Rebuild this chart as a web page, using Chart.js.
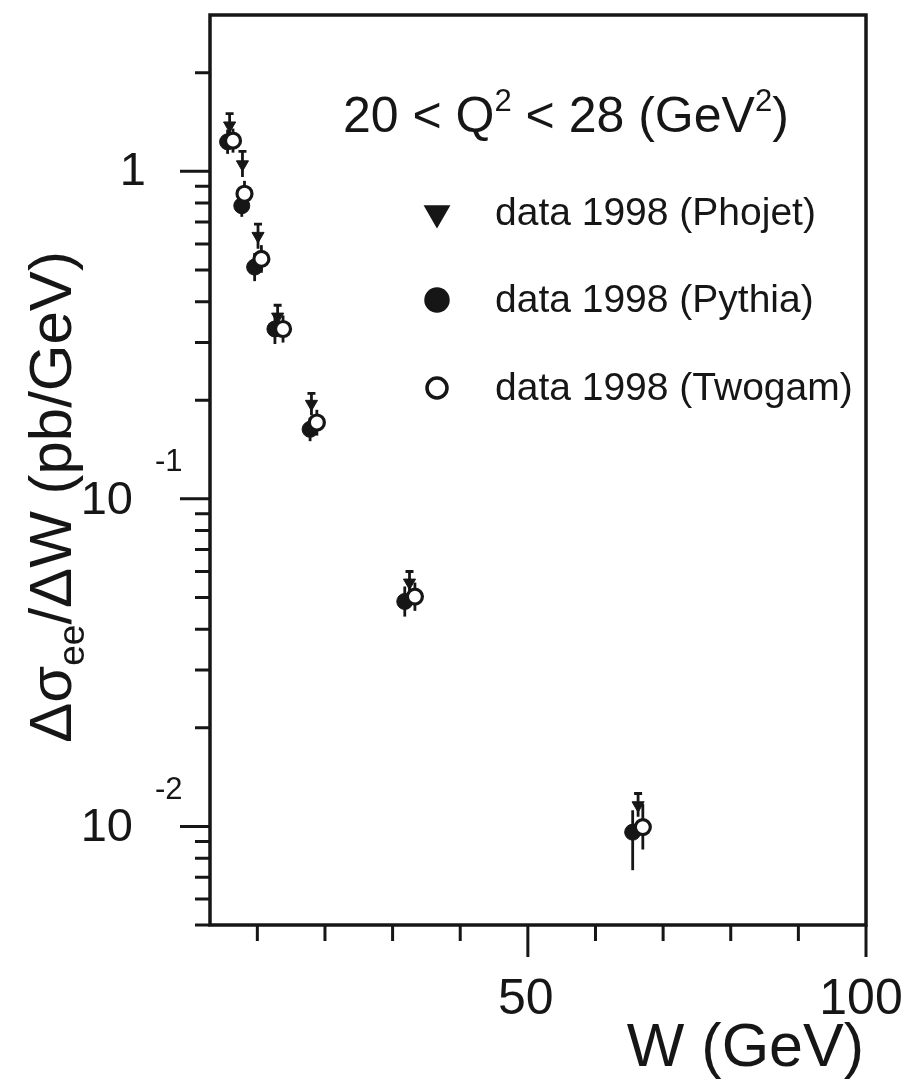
<!DOCTYPE html>
<html>
<head>
<meta charset="utf-8">
<script src="https://cdn.jsdelivr.net/npm/chart.js@4.4.1/dist/chart.umd.min.js"></script>
<style>
html,body{margin:0;padding:0;background:#fff;}
#wrap{width:915px;height:1080px;}
</style>
</head>
<body>
<div id="wrap"><canvas id="c" width="915" height="1080"></canvas></div>
<script>
// ---- data ----
const wPhojet  = [5.9, 7.8, 10.1, 13.0, 18.0, 32.5, 66.3];
const yPhojet  = [1.38, 1.05, 0.635, 0.36, 0.195, 0.0555, 0.0116];
const loPhojet = [1.27, 0.96, 0.58, 0.33, 0.18, 0.051, 0.0107];
const hiPhojet = [1.50, 1.15, 0.69, 0.39, 0.21, 0.060, 0.0126];

const wPythia  = [5.6, 7.7, 9.6, 12.6, 17.8, 31.8, 65.5];
const yPythia  = [1.23, 0.785, 0.51, 0.33, 0.163, 0.0486, 0.0096];
const loPythia = [1.13, 0.726, 0.462, 0.297, 0.150, 0.0437, 0.00735];
const hiPythia = [1.34, 0.85, 0.563, 0.367, 0.177, 0.054, 0.0112];

const wTwogam  = [6.4, 8.1, 10.6, 13.8, 18.8, 33.3, 67.0];
const yTwogam  = [1.24, 0.854, 0.54, 0.33, 0.171, 0.0503, 0.00995];
const loTwogam = [1.14, 0.78, 0.49, 0.30, 0.156, 0.0455, 0.0085];
const hiTwogam = [1.35, 0.935, 0.595, 0.363, 0.187, 0.0555, 0.0117];

const seriesNames = ["data 1998 (Phojet)", "data 1998 (Pythia)", "data 1998 (Twogam)"];

// ---- axes ----
const xMin = 3, xMax = 100;
const yMin = 0.005, yMax = 3;
const xMinorTicks = [10, 20, 30, 40, 60, 70, 80, 90];
const xMajorTicks = [50, 100];
const xTickLabels = ["50", "100"];
const yMajorTicks = [1, 0.1, 0.01];
const yTickBase = ["1", "10", "10"];
const yTickExp  = ["", "-1", "-2"];
const yMinorTicks = [2, 0.9, 0.8, 0.7, 0.6, 0.5, 0.4, 0.3, 0.2,
                     0.09, 0.08, 0.07, 0.06, 0.05, 0.04, 0.03, 0.02,
                     0.009, 0.008, 0.007, 0.006, 0.005];
const xTitle = "W (GeV)";
const noteText = ["20 < Q", "2", " < 28 (GeV", "2", ")"];

const INK = '#161616';
const FONT = '"Liberation Sans", Arial, Helvetica, sans-serif';

function pts(xs, ys) { return xs.map((x, i) => ({x: x, y: ys[i]})); }

const errs = [
  {lo: loPhojet, hi: hiPhojet, cap: 8},
  {lo: loTwogam, hi: hiTwogam, cap: 0},
  {lo: loPythia, hi: hiPythia, cap: 0}
];

const decor = {
  id: 'decor',
  beforeDatasetsDraw(chart) {
    const ctx = chart.ctx, xs = chart.scales.x, ys = chart.scales.y;
    ctx.save();
    ctx.strokeStyle = INK;
    ctx.lineWidth = 2.8;
    chart.data.datasets.forEach((ds, di) => {
      const e = errs[di];
      ds.data.forEach((p, i) => {
        const px = xs.getPixelForValue(p.x);
        const y1 = ys.getPixelForValue(e.lo[i]);
        const y2 = ys.getPixelForValue(e.hi[i]);
        ctx.beginPath();
        ctx.moveTo(px, y1); ctx.lineTo(px, y2);
        if (e.cap) { ctx.moveTo(px - e.cap / 2, y2); ctx.lineTo(px + e.cap / 2, y2); }
        ctx.stroke();
      });
    });
    ctx.restore();
  },
  afterDraw(chart) {
    const ctx = chart.ctx, a = chart.chartArea, xs = chart.scales.x, ys = chart.scales.y;
    ctx.save();
    ctx.strokeStyle = INK;
    ctx.fillStyle = INK;
    // frame
    ctx.lineWidth = 3.5;
    ctx.strokeRect(a.left, a.top, a.right - a.left, a.bottom - a.top);
    // x ticks
    ctx.lineWidth = 3;
    ctx.beginPath();
    xMinorTicks.forEach(v => { const p = xs.getPixelForValue(v); ctx.moveTo(p, a.bottom); ctx.lineTo(p, a.bottom + 16); });
    xMajorTicks.forEach(v => { const p = xs.getPixelForValue(v); ctx.moveTo(p, a.bottom); ctx.lineTo(p, a.bottom + 32); });
    // y ticks
    yMinorTicks.forEach(v => { const p = ys.getPixelForValue(v); ctx.moveTo(a.left, p); ctx.lineTo(a.left - 15, p); });
    yMajorTicks.forEach(v => { const p = ys.getPixelForValue(v); ctx.moveTo(a.left, p); ctx.lineTo(a.left - 30, p); });
    ctx.stroke();
    // x tick labels
    ctx.font = '50px ' + FONT;
    ctx.textAlign = 'center';
    ctx.textBaseline = 'alphabetic';
    xMajorTicks.forEach((v, i) => {
      const p = xs.getPixelForValue(v);
      ctx.fillText(xTickLabels[i], p - (i === 1 ? 5 : 2), a.bottom + 89);
    });
    // y tick labels
    yMajorTicks.forEach((v, i) => {
      const p = ys.getPixelForValue(v);
      ctx.font = '47px ' + FONT;
      ctx.textAlign = 'right';
      ctx.textBaseline = 'middle';
      if (yTickExp[i] === '') {
        ctx.fillText(yTickBase[i], 146, p + 1);
      } else {
        ctx.fillText(yTickBase[i], 133, p + 2);
        ctx.font = '31px ' + FONT;
        ctx.textAlign = 'left';
        ctx.fillText(yTickExp[i], 155, p - 36);
      }
    });
    // x title
    ctx.font = '61px ' + FONT;
    ctx.textAlign = 'right';
    ctx.textBaseline = 'alphabetic';
    ctx.fillText(xTitle, 864, 1066);
    // y title (rotated)
    ctx.save();
    ctx.translate(71, 497);
    ctx.rotate(-Math.PI / 2);
    const big = '60px ' + FONT, small = '37px ' + FONT;
    const parts = [["\u0394\u03c3", big, 0], ["ee", small, 13], ["/\u0394W (pb/GeV)", big, 0]];
    let total = 0;
    parts.forEach(pt => { ctx.font = pt[1]; total += ctx.measureText(pt[0]).width; });
    let cx = -total / 2;
    ctx.textAlign = 'left';
    parts.forEach(pt => { ctx.font = pt[1]; ctx.fillText(pt[0], cx, pt[2]); cx += ctx.measureText(pt[0]).width; });
    ctx.restore();
    // annotation
    let nx = 343;
    ctx.textAlign = 'left';
    ctx.textBaseline = 'alphabetic';
    noteText.forEach((t, i) => {
      const sup = (i === 1 || i === 3);
      ctx.font = (sup ? '31px ' : '50px ') + FONT;
      ctx.fillText(t, nx, sup ? 111 : 132);
      nx += ctx.measureText(t).width;
    });
    // legend
    const rows = [213, 300, 388];
    const styles = [
      {pointStyle: 'triangle', rotation: 180, radius: 12, fill: INK},
      {pointStyle: 'circle', rotation: 0, radius: 11, fill: INK},
      {pointStyle: 'circle', rotation: 0, radius: 10, fill: '#fff'}
    ];
    rows.forEach((ry, i) => {
      const s = styles[i];
      ctx.save();
      ctx.fillStyle = s.fill;
      ctx.strokeStyle = INK;
      ctx.lineWidth = 3.5;
      Chart.helpers.drawPoint(ctx, {pointStyle: s.pointStyle, rotation: s.rotation, radius: s.radius, borderWidth: 3.5}, 437, ry);
      ctx.restore();
      ctx.font = '39px ' + FONT;
      ctx.textAlign = 'left';
      ctx.textBaseline = 'middle';
      ctx.fillStyle = INK;
      ctx.fillText(seriesNames[i], 495, ry + 1);
    });
    ctx.restore();
  }
};

new Chart(document.getElementById('c'), {
  type: 'scatter',
  data: {
    datasets: [
      {label: seriesNames[0], data: pts(wPhojet, yPhojet), pointStyle: 'triangle', rotation: 180,
       pointRadius: 7, backgroundColor: INK, borderColor: INK, borderWidth: 1},
      {label: seriesNames[2], data: pts(wTwogam, yTwogam), pointStyle: 'circle',
       pointRadius: 7.5, backgroundColor: '#fff', borderColor: INK, borderWidth: 3.2},
      {label: seriesNames[1], data: pts(wPythia, yPythia), pointStyle: 'circle',
       pointRadius: 8, backgroundColor: INK, borderColor: INK, borderWidth: 1}
    ]
  },
  options: {
    responsive: false,
    animation: false,
    devicePixelRatio: 1,
    layout: {padding: {top: 15, right: 49, left: 0, bottom: 0}},
    plugins: {legend: {display: false}, tooltip: {enabled: false}},
    scales: {
      x: {type: 'linear', min: xMin, max: xMax, position: 'bottom',
          grid: {display: false}, border: {display: false}, ticks: {display: false},
          afterFit(s) { s.height = 155; }},
      y: {type: 'logarithmic', min: yMin, max: yMax, position: 'left',
          grid: {display: false}, border: {display: false}, ticks: {display: false},
          afterFit(s) { s.width = 210; }}
    }
  },
  plugins: [decor]
});
</script>
</body>
</html>
